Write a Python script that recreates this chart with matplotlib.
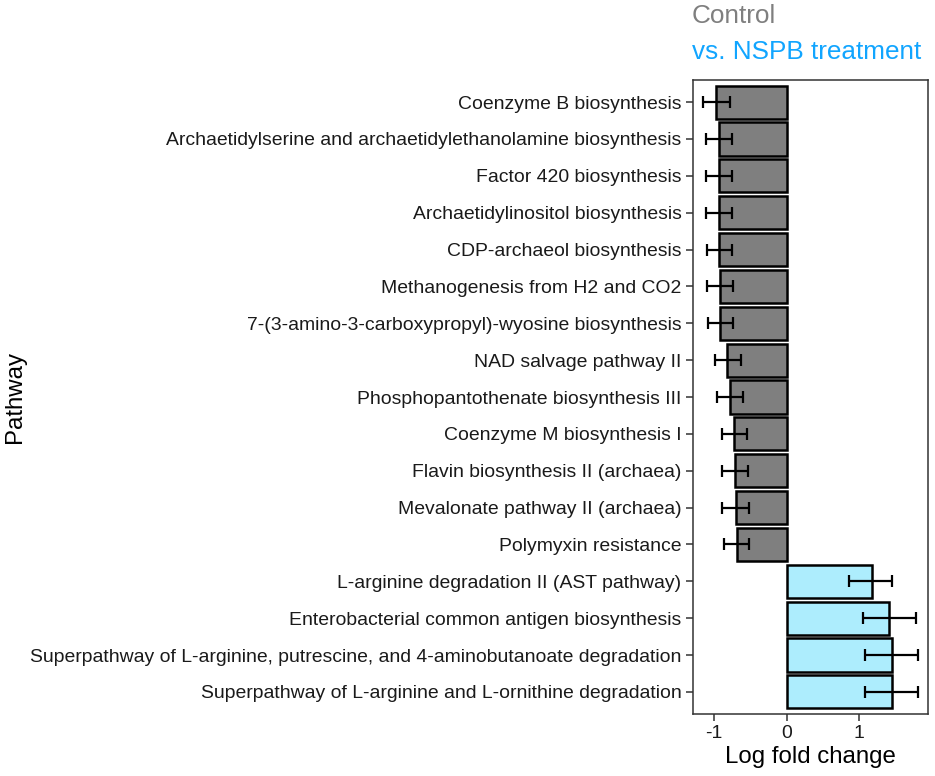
import matplotlib
matplotlib.use("Agg")
import matplotlib.pyplot as plt
import numpy as np

plt.rcParams['font.family'] = ['Liberation Sans', 'DejaVu Sans']

pathways = [
    "Coenzyme B biosynthesis",
    "Archaetidylserine and archaetidylethanolamine biosynthesis",
    "Factor 420 biosynthesis",
    "Archaetidylinositol biosynthesis",
    "CDP-archaeol biosynthesis",
    "Methanogenesis from H2 and CO2",
    "7-(3-amino-3-carboxypropyl)-wyosine biosynthesis",
    "NAD salvage pathway II",
    "Phosphopantothenate biosynthesis III",
    "Coenzyme M biosynthesis I",
    "Flavin biosynthesis II (archaea)",
    "Mevalonate pathway II (archaea)",
    "Polymyxin resistance",
    "L-arginine degradation II (AST pathway)",
    "Enterobacterial common antigen biosynthesis",
    "Superpathway of L-arginine, putrescine, and 4-aminobutanoate degradation",
    "Superpathway of L-arginine and L-ornithine degradation",
]
log_fc = [-0.975, -0.93, -0.93, -0.93, -0.925, -0.91, -0.91, -0.82, -0.78,
          -0.725, -0.715, -0.70, -0.685, 1.17, 1.41, 1.45, 1.45]
err_lo = [-1.155, -1.11, -1.11, -1.105, -1.10, -1.09, -1.085, -0.985, -0.96,
          -0.886, -0.89, -0.885, -0.86, 0.86, 1.05, 1.08, 1.08]
err_hi = [-0.78, -0.75, -0.745, -0.745, -0.745, -0.73, -0.73, -0.62, -0.60,
          -0.55, -0.53, -0.51, -0.51, 1.45, 1.78, 1.815, 1.815]
group = ["Control"] * 13 + ["NSPB"] * 4

colors = {"Control": "#7F7F7F", "NSPB": "#ADEDFD"}

fig = plt.figure(figsize=(9.35, 7.76), dpi=100)
ax = fig.add_axes([692.7 / 935, 1 - 714 / 776, (928.3 - 692.7) / 935, (714 - 80) / 776])

n = len(pathways)
y = np.arange(n)
vals = np.array(log_fc)
lo = vals - np.array(err_lo)
hi = np.array(err_hi) - vals
ax.barh(y, vals, height=0.9, color=[colors[g] for g in group],
        edgecolor="black", linewidth=1.8, zorder=2)
ax.errorbar(vals, y, xerr=[lo, hi], fmt="none", ecolor="black",
            elinewidth=1.6, capsize=4.5, capthick=1.6, zorder=3)

ax.set_ylim(n - 1 + 0.6, -0.6)
ax.set_xlim(-1.29, 1.95)
ax.set_yticks(y)
ax.set_yticklabels(pathways, fontsize=13.95, color="#1a1a1a")
ax.set_xticks([-1, 0, 1])
ax.set_xticklabels(["-1", "0", "1"], fontsize=13.95, color="#1a1a1a")
ax.tick_params(axis="both", length=5, width=1.1, color="#333333", pad=3)
for s in ax.spines.values():
    s.set_linewidth(1.1)
    s.set_color("#333333")
ax.set_xlabel("Log fold change", fontsize=17.3, labelpad=3)
fig.text(0.004, 1 - 397 / 776, "Pathway", rotation=90, fontsize=17.3,
         va="center", ha="left")

fig.text(692 / 935, 1 - 16 / 776, "Control", fontsize=18.8, color="#7F7F7F",
         va="center", ha="left")
fig.text(692 / 935, 1 - 52 / 776, "vs. NSPB treatment", fontsize=18.8,
         color="#11A5FF", va="center", ha="left")

fig.savefig("out.png", dpi=100)
